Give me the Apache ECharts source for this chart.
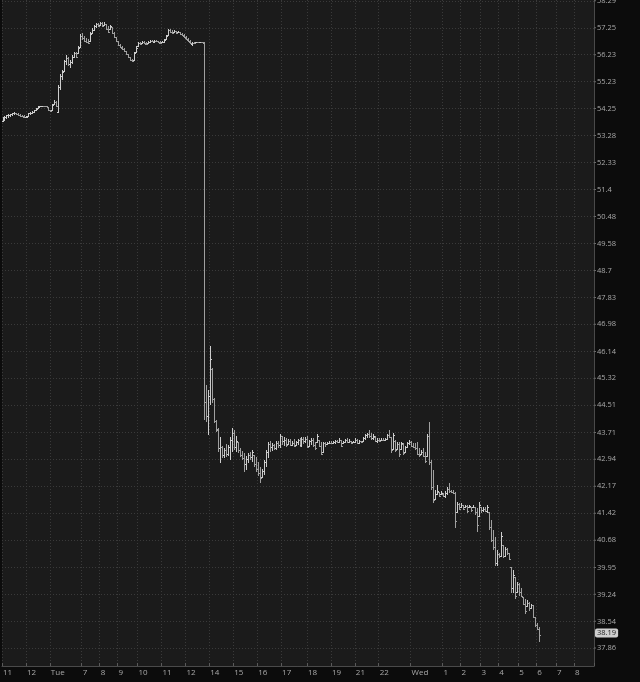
<!DOCTYPE html>
<html>
<head>
<meta charset="utf-8">
<script src="https://cdn.jsdelivr.net/npm/echarts@6/dist/echarts.min.js"></script>
<style>
html,body{margin:0;padding:0;background:#0c0c0c;}
#chart{width:640px;height:682px;}
</style>
</head>
<body>
<div id="chart"></div>
<script>
// ---- axis data ----
const barCount = 297;
const xTickLabels = ['11','12','Tue','7','8','9','10','11','12','14','15','16','17','18','19','21','22','Wed','1','2','3','4','5','6','7','8'];
const xTickBars   = [0, 12, 24, 40, 49, 58, 68, 80, 92, 104, 116, 128, 140, 153, 165, 177, 189, 205, 221, 230, 240, 249, 259, 268, 278, 287];
const yTickValues = [37.86, 38.54, 39.24, 39.95, 40.68, 41.42, 42.17, 42.94, 43.71, 44.51, 45.32, 46.14, 46.98, 47.83, 48.7, 49.58, 50.48, 51.4, 52.33, 53.28, 54.25, 55.23, 56.23, 57.25, 58.29];
const yTickLabels = ['37.86','38.54','39.24','39.95','40.68','41.42','42.17','42.94','43.71','44.51','45.32','46.14','46.98','47.83','48.7','49.58','50.48','51.4','52.33','53.28','54.25','55.23','56.23','57.25','58.29'];
const lastPrice = 38.19;

// ---- OHLC bars: [open, high, low, close] ----
const barsBeforeDrop = [
[53.80,53.94,53.77,53.91],[53.91,53.98,53.80,53.95],[53.95,54.02,53.87,54.00],[54.00,54.05,53.91,54.02],[54.02,54.05,53.94,54.04],
[54.04,54.09,53.98,54.07],[54.07,54.12,54.02,54.10],[54.08,54.09,54.02,54.05],[54.05,54.09,53.98,54.02],[54.02,54.05,53.94,53.98],
// 10
[53.98,54.02,53.94,53.96],[53.96,54.02,53.91,53.93],[53.93,53.98,53.91,53.95],[53.95,54.09,53.94,54.07],[54.07,54.12,54.02,54.10],
[54.10,54.16,54.05,54.14],[54.14,54.20,54.09,54.18],[54.18,54.27,54.16,54.25],[54.25,54.34,54.23,54.32],[54.32,54.34,54.30,54.32],
// 20
[54.32,54.34,54.30,54.33],[54.33,54.34,54.30,54.32],[54.32,54.34,54.30,54.31],[54.30,54.30,54.16,54.18],[54.18,54.20,54.12,54.15],
[54.16,54.41,54.16,54.38],[54.38,54.56,54.37,54.50],[54.50,54.52,54.30,54.32],[54.12,55.10,54.09,55.05],[55.05,55.51,54.92,55.45],
// 30
[55.45,55.66,55.29,55.60],[55.60,56.03,55.58,55.98],[55.98,56.21,55.84,56.10],[56.10,56.14,55.81,55.88],[55.88,56.03,55.73,55.95],
[55.95,56.21,55.88,56.15],[56.15,56.33,56.10,56.28],[56.28,56.33,56.10,56.15],[56.25,56.55,56.25,56.50],[56.50,57.01,56.48,56.95],
// 40
[56.95,57.05,56.78,56.85],[56.85,56.93,56.70,56.75],[56.75,56.86,56.67,56.70],[56.70,56.82,56.63,56.66],[56.70,57.09,56.70,57.02],
[57.02,57.24,57.01,57.18],[57.18,57.35,57.12,57.30],[57.30,57.43,57.24,57.38],[57.38,57.43,57.28,57.33],[57.33,57.47,57.31,57.42],
// 50
[57.42,57.47,57.28,57.32],[57.32,57.47,57.31,57.40],[57.39,57.39,57.16,57.20],[57.20,57.31,57.05,57.10],[57.16,57.35,57.16,57.30],
[57.28,57.28,57.01,57.04],[57.04,57.09,56.86,56.90],[56.90,56.90,56.70,56.74],[56.74,56.74,56.55,56.58],[56.58,56.63,56.48,56.50],
// 60
[56.50,56.55,56.40,56.43],[56.43,56.48,56.33,56.36],[56.36,56.36,56.21,56.24],[56.24,56.25,56.10,56.13],[56.13,56.14,55.99,56.02],
[56.02,56.06,55.95,55.97],[56.00,56.33,55.99,56.30],[56.30,56.55,56.29,56.50],[56.52,56.70,56.52,56.66],[56.66,56.70,56.59,56.62],
// 70
[56.63,56.74,56.63,56.70],[56.70,56.74,56.63,56.65],[56.65,56.70,56.59,56.62],[56.63,56.74,56.63,56.71],[56.71,56.78,56.67,56.75],
[56.75,56.78,56.70,56.72],[56.72,56.78,56.67,56.76],[56.76,56.78,56.70,56.73],[56.73,56.74,56.67,56.69],[56.69,56.74,56.63,56.66],
// 80
[56.67,56.74,56.67,56.72],[56.72,56.82,56.67,56.80],[56.80,56.97,56.78,56.94],[56.94,57.20,56.93,57.16],[57.16,57.20,57.05,57.10],
[57.10,57.16,57.01,57.05],[57.05,57.16,57.05,57.12],[57.12,57.12,57.01,57.04],[57.05,57.12,57.05,57.08],[57.08,57.09,56.97,57.00],
// 90
[57.00,57.05,56.93,56.95],[56.95,57.01,56.86,56.88],[56.88,56.93,56.78,56.80],[56.80,56.86,56.70,56.72],[56.72,56.78,56.63,56.65],
[56.65,56.70,56.55,56.68],[56.68,56.70,56.63,56.67],[56.67,56.70,56.67,56.68],[56.68,56.70,56.67,56.67],[56.67,56.70,56.67,56.68],
// 100
[56.68,56.70,56.67,56.67],[56.67,56.70,44.07,44.60]
];
const barsAfterDrop = [
// 102
[44.60,45.11,44.01,44.20],[44.20,44.96,43.65,44.80],[44.80,46.30,44.51,45.90],[45.60,45.62,44.57,44.70],[44.70,44.72,43.98,44.05],
[44.05,44.07,43.74,43.78],[43.80,43.83,43.14,43.25],[43.25,43.57,42.83,43.30],[43.30,43.31,42.97,43.05],[43.05,43.26,42.97,43.20],
// 112
[43.20,43.37,43.00,43.10],[43.10,43.34,43.03,43.30],[43.30,43.57,42.91,43.50],[43.50,43.83,43.14,43.70],[43.70,43.77,43.20,43.30],
[43.30,43.62,43.14,43.45],[43.43,43.43,43.11,43.20],[43.20,43.26,43.00,43.05],[43.05,43.17,42.91,42.98],[42.98,43.11,42.58,42.80],
// 122
[42.80,43.03,42.63,42.95],[42.95,43.11,42.83,43.05],[43.05,43.14,42.91,43.00],[43.00,43.20,42.85,43.15],[43.06,43.06,42.72,42.80],
[42.80,43.00,42.58,42.65],[42.65,42.85,42.46,42.55],[42.55,42.72,42.26,42.40],[42.40,42.66,42.40,42.60],[42.60,42.91,42.49,42.85],
// 132
[42.85,43.20,42.72,43.15],[43.15,43.43,42.97,43.38],[43.38,43.46,43.14,43.30],[43.30,43.40,43.17,43.35],[43.35,43.37,43.20,43.25],
[43.25,43.46,43.20,43.42],[43.42,43.46,43.26,43.35],[43.35,43.68,43.26,43.62],[43.62,43.62,43.34,43.45],[43.45,43.57,43.31,43.50],
// 142
[43.50,43.54,43.29,43.35],[43.35,43.51,43.34,43.45],[43.45,43.51,43.31,43.36],[43.36,43.46,43.31,43.42],[43.42,43.51,43.29,43.33],
[43.33,43.46,43.31,43.43],[43.43,43.51,43.34,43.48],[43.48,43.54,43.29,43.35],[43.35,43.57,43.29,43.52],[43.52,43.57,43.37,43.45],
// 152
[43.45,43.57,43.40,43.53],[43.53,43.60,43.26,43.30],[43.30,43.48,43.29,43.45],[43.45,43.54,43.34,43.50],[43.50,43.54,43.29,43.35],
[43.35,43.43,43.20,43.25],[43.42,43.68,43.40,43.62],[43.48,43.48,43.29,43.32],[43.32,43.43,43.06,43.10],[43.12,43.43,43.11,43.40],
// 162
[43.40,43.43,43.29,43.38],[43.38,43.43,43.34,43.41],[43.41,43.46,43.37,43.42],[43.42,43.46,43.37,43.40],[43.40,43.46,43.37,43.43],
[43.43,43.48,43.37,43.45],[43.45,43.48,43.40,43.42],[43.42,43.54,43.40,43.50],[43.48,43.48,43.29,43.32],[43.37,43.46,43.37,43.43],
// 172
[43.43,43.51,43.40,43.48],[43.48,43.54,43.40,43.44],[43.44,43.51,43.40,43.47],[43.46,43.46,43.37,43.40],[43.40,43.46,43.40,43.44],
[43.44,43.54,43.40,43.50],[43.50,43.51,43.37,43.42],[43.42,43.48,43.37,43.45],[43.45,43.46,43.40,43.43],[43.43,43.57,43.43,43.55],
// 182
[43.55,43.68,43.48,43.65],[43.65,43.71,43.54,43.68],[43.68,43.77,43.54,43.60],[43.60,43.71,43.48,43.55],[43.55,43.68,43.48,43.60],
[43.58,43.60,43.43,43.47],[43.47,43.54,43.40,43.50],[43.50,43.54,43.43,43.46],[43.46,43.54,43.46,43.50],[43.50,43.54,43.46,43.48],
// 192
[43.48,43.54,43.46,43.52],[43.52,43.68,43.48,43.65],[43.65,43.77,43.54,43.58],[43.57,43.57,43.11,43.20],[43.20,43.71,43.20,43.65],
[43.45,43.48,43.14,43.20],[43.20,43.43,43.20,43.38],[43.38,43.43,43.00,43.10],[43.22,43.43,43.20,43.40],[43.38,43.40,43.06,43.12],
// 202
[43.12,43.31,43.11,43.28],[43.28,43.43,43.26,43.40],[43.40,43.48,43.34,43.44],[43.44,43.46,43.29,43.33],[43.33,43.40,43.26,43.30],
[43.30,43.40,43.20,43.25],[43.25,43.43,43.06,43.10],[43.10,43.26,43.00,43.05],[43.08,43.20,43.06,43.15],[43.15,43.26,43.00,43.03],
// 212
[43.03,43.14,42.83,42.88],[43.00,43.68,43.00,43.60],[43.60,44.01,42.77,42.85]
];
const barsSlide = [
// 215
[42.85,42.91,42.06,42.15],[42.15,42.63,41.70,41.80],[41.80,42.06,41.78,41.95],[41.95,42.20,41.92,42.05],[42.00,42.00,41.87,41.90],
[41.92,42.03,41.92,41.98],[41.96,41.98,41.87,41.89],[41.89,42.03,41.84,41.98],[41.98,42.14,41.92,42.10],[42.10,42.26,41.98,42.05],
// 225
[42.05,42.06,41.98,42.00],[42.00,42.06,41.95,41.98],[41.98,42.00,41.01,41.20],[41.45,41.73,41.42,41.68],[41.68,41.70,41.50,41.55],
[41.56,41.70,41.56,41.65],[41.64,41.64,41.50,41.55],[41.56,41.64,41.56,41.62],[41.62,41.64,41.42,41.48],[41.56,41.64,41.56,41.62],
// 235
[41.59,41.59,41.45,41.50],[41.56,41.64,41.56,41.60],[41.59,41.59,41.37,41.45],[41.45,41.56,40.90,41.10],[41.31,41.73,41.31,41.65],
[41.59,41.59,41.42,41.50],[41.50,41.59,41.45,41.55],[41.55,41.59,41.45,41.48],[41.48,41.64,41.42,41.60],[41.45,41.45,40.96,41.05],
// 245
[41.05,41.23,40.63,40.70],[40.70,40.96,40.41,40.50],[40.50,40.76,40.00,40.08],[40.08,40.41,40.00,40.30],[40.30,40.33,40.19,40.25],
[40.25,40.90,40.22,40.80],[40.55,40.55,40.19,40.25],[40.25,40.49,40.22,40.45],[40.45,40.46,40.28,40.35],[40.33,40.33,40.14,40.16],
// 255
[39.95,39.95,39.27,39.40],[39.40,39.87,39.27,39.75],[39.69,39.69,39.13,39.20],[39.27,39.56,39.27,39.50],[39.50,39.53,39.21,39.30],
[39.30,39.40,39.16,39.20],[39.16,39.16,38.95,39.00],[39.00,39.13,38.74,38.80],[38.90,39.08,38.90,39.02],[39.02,39.03,38.82,38.88],
// 265
[38.88,39.00,38.87,38.95],[38.95,38.95,38.62,38.66],[38.64,38.64,38.39,38.45],[38.45,38.51,38.31,38.35],[38.35,38.39,38.01,38.19]
];

// ---- build ----
const bars = barsBeforeDrop.concat(barsAfterDrop, barsSlide);
const categories = Array.from({length: barCount}, (_, i) => String(i));
const labelAt = {};
xTickBars.forEach((b, k) => { labelAt[b] = xTickLabels[k]; });
const isTick = (idx) => labelAt[idx] !== undefined;
const ohlcData = bars.map((b, i) => [i, b[0], b[1], b[2], b[3]]);

const textColor = '#a9a9a9';
const gridColor = '#3a3a3a';
const fontFamily = 'Open Sans';

function renderBar(params, api) {
  const i = api.value(0);
  const o = api.coord([i, api.value(1)]);
  const h = api.coord([i, api.value(2)]);
  const l = api.coord([i, api.value(3)]);
  const c = api.coord([i, api.value(4)]);
  const x = Math.floor(h[0] + 0.01) + 0.5;
  const top = Math.round(h[1]);
  let bot = Math.round(l[1]);
  if (bot - top < 1) bot = top + 1;
  const yo = Math.min(Math.max(Math.round(o[1]), top), bot - 1) + 0.5;
  const yc = Math.min(Math.max(Math.round(c[1]), top), bot - 1) + 0.5;
  const up = api.value(4) >= api.value(1);
  const style = { stroke: up ? '#cdcdcd' : '#a0a0a0', lineWidth: 1 };
  return {
    type: 'group',
    children: [
      { type: 'line', shape: { x1: x, y1: top, x2: x, y2: bot }, style: style },
      { type: 'line', shape: { x1: x - 1.5, y1: yo, x2: x - 0.5, y2: yo }, style: style },
      { type: 'line', shape: { x1: x + 0.5, y1: yc, x2: x + 1.5, y2: yc }, style: style }
    ]
  };
}

const gridMarks = yTickValues.map((v, k) => ({
  yAxis: v,
  label: { formatter: '{t|}{v|' + yTickLabels[k] + '}' }
}));

const chart = echarts.init(document.getElementById('chart'), null, { renderer: 'canvas' });
chart.setOption({
  backgroundColor: '#0c0c0c',
  animation: false,
  grid: { left: 0, right: 46, top: 0, bottom: 16, show: true, backgroundColor: '#1b1b1b', borderWidth: 0 },
  xAxis: {
    type: 'category',
    data: categories,
    boundaryGap: true,
    axisLine: { show: true, onZero: false, lineStyle: { color: '#4a4a4a' } },
    axisTick: { show: true, inside: true, length: 3, interval: (i) => isTick(i), lineStyle: { color: '#5a5a5a' } },
    axisLabel: {
      interval: (i) => isTick(i),
      formatter: (v) => labelAt[Number(v)] || '',
      align: 'left',
      margin: 3,
      color: textColor,
      fontSize: 8,
      fontFamily: fontFamily
    },
    splitLine: { show: true, interval: (i) => isTick(i), lineStyle: { color: gridColor, type: [1, 2], width: 1 } }
  },
  yAxis: {
    type: 'log',
    position: 'right',
    min: 37.41,
    max: 58.32,
    axisLine: { show: true, lineStyle: { color: '#4a4a4a' } },
    axisTick: { show: false },
    axisLabel: { show: false },
    splitLine: { show: false }
  },
  series: [
    {
      type: 'line',
      data: [],
      silent: true,
      z: 1,
      clip: false,
      markLine: {
        silent: true,
        z: 1,
        animation: false,
        symbol: ['none', 'none'],
        lineStyle: { color: gridColor, type: [1, 2], width: 1 },
        label: {
          position: 'end',
          distance: 0,
          color: textColor,
          fontSize: 7.5,
          fontFamily: fontFamily,
          rich: {
            t: { width: 2, height: 1, backgroundColor: '#6a6a6a', verticalAlign: 'middle' },
            v: { color: textColor, fontSize: 7.5, fontFamily: fontFamily, padding: [0, 0, 0, 1] }
          }
        },
        data: gridMarks
      }
    },
    {
      type: 'line',
      data: [],
      silent: true,
      z: 6,
      clip: false,
      markLine: {
        silent: true,
        z: 6,
        animation: false,
        symbol: ['none', 'none'],
        lineStyle: { color: 'rgba(0,0,0,0)', width: 1, type: 'solid' },
        label: {
          show: true,
          position: 'end',
          distance: 1,
          offset: [0, -2],
          formatter: lastPrice.toFixed(2),
          color: '#1c1c1c',
          fontSize: 7.5,
          fontFamily: fontFamily,
          backgroundColor: '#cfcfcf',
          borderRadius: 2,
          padding: [1, 2, 0, 2]
        },
        data: [{ yAxis: lastPrice }]
      }
    },
    {
      type: 'custom',
      name: 'OHLC',
      renderItem: renderBar,
      data: ohlcData,
      encode: { x: 0, y: [1, 2, 3, 4] },
      clip: true,
      z: 3
    }
  ]
});
</script>
</body>
</html>
